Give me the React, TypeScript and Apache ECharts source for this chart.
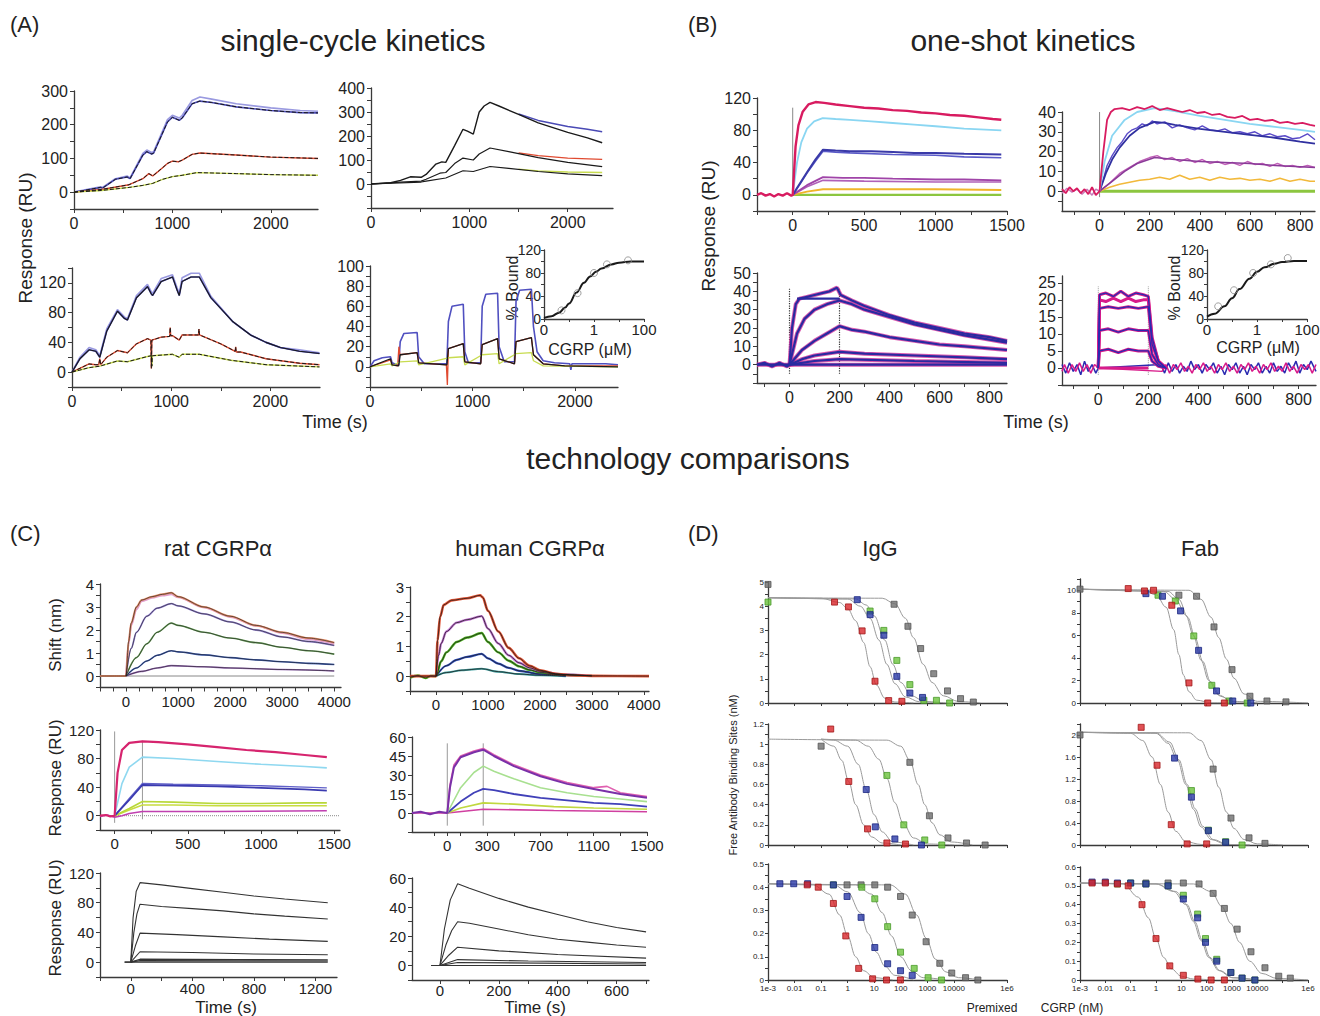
import React, { useEffect, useRef } from "react";
import * as echarts from "echarts";

type P = number[][];
const FONT = '"Liberation Sans", Arial, sans-serif';

// ================= (A) single-cycle kinetics =================
const a1BlueUpper: P = [[0,0],[100,6],[270,16],[290,14],[420,40],[540,48],[570,42],[700,115],[740,125],[790,118],[810,120],[950,215],[1000,228],[1070,220],[1100,228],[1200,272],[1280,282],[1400,276],[1650,262],[2000,250],[2300,242],[2480,240]];
const a1BlueLower: P = [[0,0],[100,5],[270,14],[290,12],[420,38],[540,45],[570,40],[700,110],[740,120],[790,113],[810,116],[950,208],[1000,222],[1070,213],[1100,220],[1200,262],[1280,270],[1400,266],[1650,253],[2000,242],[2300,236],[2480,235]];
const a1Red: P = [[0,0],[150,4],[280,8],[560,22],[700,40],[760,55],[800,48],[850,60],[950,85],[1000,92],[1060,90],[1100,95],[1200,112],[1280,116],[1650,110],[2000,104],[2480,100]];
const a1Green: P = [[0,0],[280,5],[560,14],[700,20],[800,26],[900,38],[1000,46],[1100,50],[1250,58],[1650,55],[2000,52],[2480,50]];

const a2Top: P = [[0,0],[200,5],[300,15],[400,30],[510,28],[560,40],[660,83],[720,92],[760,90],[850,160],[935,228],[980,220],[1040,208],[1100,300],[1150,325],[1210,340],[1300,325],[1500,290],[1700,255],[2000,215],[2200,192],[2350,172]];
const a2Blue: P = [[1500,292],[1700,265],[2000,240],[2200,228],[2350,218]];
const a2Mid: P = [[0,0],[300,8],[510,12],[560,20],[700,45],[760,48],[850,85],[935,108],[1040,100],[1100,125],[1210,150],[1400,135],[1700,110],[2000,90],[2350,72]];
const a2Red: P = [[1500,130],[1700,118],[2000,108],[2350,103]];
const a2Low: P = [[0,0],[510,8],[560,12],[760,25],[935,55],[1040,52],[1210,73],[1400,65],[1700,52],[2000,42],[2350,35]];
const a2Yellow: P = [[1500,62],[1700,55],[2000,50],[2350,48]];

const a3Blue: P = [[0,0],[80,18],[172,30],[240,28],[280,20],[350,55],[458,82],[530,72],[559,70],[650,100],[761,115],[800,105],[812,103],[900,122],[1013,128],[1060,110],[1081,103],[1110,122],[1200,128],[1283,128],[1400,100],[1620,68],[1800,50],[1956,40],[2100,33],[2293,28],[2495,25]];
const a3BlueLight: P = [[0,0],[80,20],[172,33],[240,30],[280,22],[350,58],[458,84],[530,74],[559,72],[650,103],[761,118],[800,108],[812,106],[900,126],[1013,131],[1060,113],[1081,106],[1110,127],[1200,133],[1283,133],[1400,102],[1620,68],[1800,50],[1956,40],[2100,33],[2293,30],[2495,26]];
const a3Red: P = [[0,0],[172,11],[240,10],[270,10],[280,18],[290,10],[350,20],[458,29],[559,26],[650,38],[761,45],[795,43],[800,5],[805,43],[900,47],[985,48],[990,60],[995,49],[1013,49],[1081,43],[1110,50],[1275,50],[1280,58],[1285,50],[1500,38],[1645,28],[1650,34],[1655,27],[1700,27],[1956,18],[2293,12],[2495,10]];
const a3Green: P = [[0,0],[172,6],[280,8],[458,15],[559,14],[761,21],[800,22],[805,8],[810,22],[1013,24],[1081,20],[1110,24],[1283,24],[1600,16],[1956,10],[2495,7]];

const a4Blue: P = [[0,0],[40,6],[120,9],[200,10],[215,4],[260,2],[280,2],[295,25],[330,33],[460,34],[475,10],[530,3],[750,3],[765,45],[800,60],[910,62],[925,15],[960,4],[1080,4],[1095,60],[1130,72],[1245,73],[1260,20],[1310,5],[1410,5],[1425,65],[1460,76],[1575,77],[1595,40],[1630,15],[1690,6],[1800,4],[1950,3],[1960,-3],[1970,3],[2300,3],[2420,2]];
const a4Black: P = [[0,0],[200,8],[215,2],[280,1],[295,12],[460,14],[475,4],[750,2],[765,18],[910,23],[925,5],[1080,3],[1095,22],[1245,28],[1260,8],[1410,3],[1425,25],[1575,29],[1595,12],[1690,3],[1900,1],[2420,0]];
const a4Red: P = [[0,0],[200,7],[215,2],[270,1],[282,20],[292,12],[460,14],[475,4],[745,2],[755,-18],[765,18],[910,23],[925,5],[1080,3],[1095,22],[1245,28],[1260,8],[1410,3],[1425,25],[1575,29],[1595,12],[1690,3],[1900,1],[2420,1]];
const a4Green: P = [[0,0],[200,3],[215,1],[295,5],[460,6],[475,2],[765,9],[910,10],[925,2],[1095,12],[1245,13],[1260,3],[1425,13],[1575,14],[1595,6],[1690,1],[2420,0]];

const insetACurve: P = [[0.01,2],[0.02,5],[0.04,11],[0.07,20],[0.1,27],[0.2,46],[0.4,63],[0.7,74],[1.2,82],[2,88],[5,95],[10,98],[30,100],[100,100]];
const insetAPoints: P = [[0.05,15],[0.22,45],[1,80],[3.3,95],[23,102]];

// ================= (B) one-shot kinetics =================
const b1Pink: P = [[-250,0],[-220,2],[-190,-1],[-160,1],[-130,-2],[-100,1],[-70,-1],[-40,2],[-10,-1],[0,0],[20,60],[40,86],[70,103],[110,112],[160,115],[220,114],[300,112],[400,110],[500,108],[600,107],[700,105],[800,104],[900,102],[1000,101],[1100,99],[1200,98],[1300,96],[1400,94],[1460,93]];
const b1Cyan: P = [[0,0],[30,40],[60,65],[100,82],[150,91],[210,95],[300,94],[400,93],[550,91],[700,89],[850,87],[1000,85],[1200,82],[1460,80]];
const b1BlueA: P = [[0,0],[50,14],[100,28],[160,44],[212,56],[300,55],[400,54],[550,54],[700,53],[850,52],[1000,52],[1200,51],[1460,50]];
const b1BlueB: P = [[0,0],[50,13],[100,27],[160,42],[212,54],[300,53],[400,52],[700,50],[1000,49],[1200,47],[1460,46]];
const b1PurpleA: P = [[0,0],[100,12],[212,22],[350,21],[500,21],[700,20],[1000,19],[1200,19],[1460,18]];
const b1PurpleB: P = [[0,0],[100,10],[212,18],[500,17],[1000,16],[1460,16]];
const b1Orange: P = [[0,0],[100,4],[212,7],[500,7],[1000,7],[1460,6]];
const b1Green: P = [[0,0],[1460,0]];
const b1Inject: P = [[0,0],[0,108]];

const b2Pink: P = [[-150,1],[-135,-1],[-120,2],[-105,0],[-90,1.5],[-75,-1],[-60,1],[-45,-1.5],[-30,2],[-15,-2],[0,0],[15,20],[30,36],[45,40],[60,41.5],[90,42],[120,41],[150,42.5],[180,41.5],[210,43],[240,41],[270,42],[300,41],[330,40],[360,41],[390,39.5],[420,40],[450,38.5],[480,39],[510,37.5],[540,37],[570,38],[600,36],[630,36.5],[660,35.5],[690,36],[720,34.5],[750,35],[780,34],[810,34.5],[840,33.5],[860,33]];
const b2Cyan: P = [[0,0],[20,15],[50,28],[100,36],[150,40],[220,42],[300,40.5],[400,38],[500,36],[600,34],[700,32.5],[800,31],[860,30]];
const b2BlueFit: P = [[0,0],[25,9],[50,16],[80,22],[120,28],[160,32],[220,35],[260,34.5],[300,33.5],[400,31.5],[500,30],[600,28.5],[700,27],[800,25],[860,24]];
const b2BlueData: P = [[0,0],[15,6],[30,13],[50,18],[70,22],[90,25],[110,29],[130,31],[150,32],[170,34],[190,33],[210,35.5],[230,34],[260,35],[290,32],[320,33.5],[350,32],[380,31],[410,33],[440,31],[470,30.5],[500,31.5],[530,29.5],[560,30],[590,29],[620,30],[650,28],[680,29],[710,27.5],[740,28],[770,26.5],[800,27],[830,29],[860,26]];
const b2PurpleFit: P = [[0,0],[50,5],[100,10],[150,14],[220,17],[300,16],[400,15],[500,14.5],[600,14],[700,13],[860,12]];
const b2PurpleData: P = [[0,0],[40,4],[80,9],[120,12],[160,15],[200,17],[230,18],[260,16],[290,17],[320,15],[350,16.5],[380,14.5],[410,16],[440,14],[470,15],[500,13.5],[530,14.5],[560,13],[590,15],[620,13.5],[650,14],[680,12.5],[710,14],[740,12.5],[770,13],[800,12],[830,13],[860,12]];
const b2Orange: P = [[0,0],[40,2],[80,3.5],[120,4.5],[160,5.5],[200,6],[240,7],[280,6],[320,8],[360,6],[400,7],[440,5.5],[480,7],[520,6],[560,6.5],[600,5.5],[640,6],[680,5],[720,6.5],[760,5],[800,6],[840,5],[860,5]];
const b2BaseNoise: P = [[-150,-1],[-130,1.5],[-110,-0.5],[-90,1],[-70,-1.5],[-50,1],[-30,-2],[-15,1],[0,0]];
const b2Green: P = [[0,0],[860,0]];
const b2Inject: P = [[0,-3],[0,40]];

const b3L1: P = [[-130,0],[-100,1],[-70,-1],[-40,1],[-10,-1],[0,0],[10,20],[25,33],[40,36],[70,37],[100,38],[130,39],[160,40],[190,42],[205,38],[250,35],[300,32],[350,29.5],[400,27],[450,25],[500,23],[600,20],[700,17],[800,15],[870,13]];
const b3L2: P = [[0,0],[30,17],[60,25],[100,30],[150,33],[200,35],[250,33],[300,30],[400,26],[500,22],[600,19],[700,16],[870,12]];
const b3L3: P = [[0,0],[50,8],[100,13],[150,17],[200,21],[250,19],[300,18],[400,15],[500,13],[600,11],[700,10],[870,8]];
const b3L4: P = [[0,0],[50,3],[100,5],[200,7],[300,6],[500,5],[700,4],[870,3]];
const b3L5: P = [[0,0],[100,2],[200,3],[500,2],[870,1]];
const b3L6: P = [[-130,0],[870,0]];
const b3Plateau: P = [[30,36],[200,36]];
const b3InjectStart: P = [[0,-5],[0,42]];
const b3InjectEnd: P = [[200,-5],[200,42]];

const b4Lvl1: P = [[0,0],[5,21.5],[30,22],[60,21],[90,22.5],[120,21],[150,22],[180,21.5],[200,21],[215,9],[240,2],[270,0]];
const b4Lvl2: P = [[0,0],[5,20],[30,19.5],[60,20.5],[90,19.5],[120,20.5],[150,19.5],[180,20],[200,20],[215,8],[240,2],[270,0]];
const b4Lvl3: P = [[0,0],[5,17.5],[40,18],[80,17.5],[120,18],[160,17.5],[200,18],[215,7],[240,2],[270,0]];
const b4Lvl4: P = [[0,0],[5,11],[40,11.5],[80,10.5],[120,11.5],[160,11],[200,11],[215,4],[240,1],[270,0]];
const b4Lvl5: P = [[0,0],[5,5],[40,5.5],[80,4.5],[120,5.5],[160,5],[200,5],[215,2],[240,0.5],[270,0]];
const b4Lvl6: P = [[0,0],[200,0]];
const b4NoiseBlue: P = [[-145,1],[-130,-1.5],[-115,1.5],[-100,-1],[-85,1],[-70,-2],[-55,2],[-40,-1],[-25,1],[-10,-1.5],[0,0],[250,1],[265,-1.5],[280,1.5],[295,-1],[310,1],[325,-1.5],[340,0.5],[355,-1],[370,2],[385,-0.5],[400,1],[415,-1.5],[430,1],[445,-0.5],[460,1.5],[475,-1.5],[490,0.5],[505,-2],[520,1],[535,-0.5],[550,1.5],[565,-1.5],[580,0.5],[595,-2],[610,1],[625,-0.5],[640,1.5],[655,-1.5],[670,0.5],[685,-1.5],[700,1.5],[715,-1],[730,0.5],[745,-1.5],[760,1.5],[775,-0.5],[790,2],[805,-1.5],[820,1],[835,-0.5],[850,2],[870,-1]];
const b4NoiseMagenta: P = [[-145,-1],[-135,1],[-120,-1.5],[-105,1],[-90,-1],[-75,1.5],[-60,-1],[-45,1],[-30,-1.5],[-15,1],[0,0],[255,-1],[270,1],[285,-1.5],[300,1],[315,-0.5],[330,1.5],[345,-1],[360,0.5],[375,-1.5],[390,1],[405,-0.5],[420,1.5],[435,-1],[450,0.5],[465,-1.5],[480,1],[495,-0.5],[510,1.5],[525,-1],[540,0.5],[555,-1.5],[570,1],[585,-0.5],[600,1.5],[615,-1],[630,0.5],[645,-1.5],[660,1],[675,-0.5],[690,1.5],[705,-1],[720,0.5],[735,-1],[750,1.5],[765,-1],[780,0.5],[795,-1.5],[810,1],[825,-0.5],[840,1],[855,-1.5],[870,1]];
const b4InjectStart: P = [[0,-2],[0,24]];
const b4InjectEnd: P = [[200,-2],[200,24]];

const insetBCurve: P = [[0.01,4],[0.02,9],[0.05,22],[0.1,36],[0.2,52],[0.5,70],[1,82],[2,90],[5,96],[10,99],[30,101],[100,101]];
const insetBPoints: P = [[0.028,22],[0.12,50],[0.7,80],[3.6,95],[17,106]];

// ================= (C) technology comparisons =================
const c1Orange: P = [[-500,0],[0,0],[50,1.5],[100,2.3],[200,3.0],[300,3.3],[500,3.45],[700,3.55],[870,3.62],[1000,3.45],[1500,3.0],[2000,2.6],[2500,2.2],[3000,1.9],[3500,1.65],[4000,1.45]];
const c1Pink: P = [[0,0],[50,1.4],[100,2.2],[200,2.9],[300,3.25],[500,3.4],[700,3.5],[870,3.55],[1000,3.42],[1500,2.98],[2000,2.57],[2500,2.18],[3000,1.87],[3500,1.6],[4000,1.4]];
const c1Purple: P = [[0,0],[100,1.2],[200,1.9],[400,2.6],[600,2.95],[870,3.15],[1000,3.05],[1500,2.7],[2000,2.35],[2500,2.0],[3000,1.7],[3500,1.5],[4000,1.33]];
const c1Green: P = [[0,0],[200,0.8],[400,1.4],[600,1.9],[870,2.3],[1000,2.2],[1500,1.9],[2000,1.65],[2500,1.45],[3000,1.25],[3500,1.1],[4000,0.95]];
const c1Blue: P = [[0,0],[200,0.35],[400,0.65],[600,0.9],[870,1.1],[1000,1.05],[1500,0.92],[2000,0.8],[2500,0.7],[3000,0.62],[3500,0.55],[4000,0.5]];
const c1Violet: P = [[0,0],[300,0.2],[600,0.35],[870,0.45],[1500,0.4],[2000,0.35],[3000,0.28],[4000,0.22]];
const c1Zero: P = [[-500,0],[4000,0]];

const c2Red: P = [[-500,0],[0,0],[30,1.2],[80,2.0],[150,2.4],[300,2.55],[600,2.62],[850,2.72],[900,2.65],[1000,2.2],[1200,1.5],[1400,0.95],[1600,0.6],[1800,0.35],[2000,0.2],[2300,0.08],[2600,0.03],[3000,0.01],[4100,0]];
const c2Pink: P = [[0,0],[50,0.7],[100,1.1],[200,1.5],[400,1.8],[600,1.9],[880,2.02],[1000,1.6],[1200,1.1],[1400,0.7],[1600,0.45],[1800,0.28],[2000,0.17],[2400,0.06],[3000,0.01]];
const c2Green: P = [[-500,-0.05],[-350,0.02],[-200,-0.06],[-100,0.01],[0,0],[100,0.5],[200,0.8],[400,1.15],[600,1.3],[880,1.45],[1000,1.15],[1200,0.8],[1400,0.52],[1600,0.33],[1800,0.21],[2000,0.13],[2400,0.05],[3000,0.01]];
const c2Blue: P = [[0,0],[200,0.35],[400,0.55],[600,0.65],[880,0.75],[1000,0.6],[1200,0.42],[1400,0.28],[1600,0.18],[2000,0.07],[2500,0.02]];
const c2Teal: P = [[0,0],[200,0.12],[500,0.2],[880,0.25],[1200,0.15],[1600,0.07],[2000,0.03],[2500,0]];
const c2Zero: P = [[2500,0],[4100,0]];

const c3Pink: P = [[-100,0],[-60,1],[-30,-1],[0,0],[20,60],[50,92],[100,102],[190,104],[300,103],[500,100],[700,96],[900,92],[1100,89],[1300,85],[1450,82]];
const c3Cyan: P = [[0,0],[50,45],[100,68],[190,82],[400,80],[700,76],[1000,72],[1300,69],[1450,67]];
const c3Blue: P = [[0,0],[100,22],[190,43],[400,42],[700,41],[1000,39],[1300,37],[1450,35]];
const c3Blue2: P = [[0,0],[100,24],[190,45],[400,44],[700,43],[1000,42],[1300,40],[1450,39]];
const c3Yellow: P = [[0,0],[100,10],[190,20],[400,19],[700,17],[1000,17],[1300,18],[1450,18]];
const c3Yellow2: P = [[0,0],[100,8],[190,15],[400,15],[700,14],[1000,14],[1450,14]];
const c3Magenta: P = [[-100,-1],[-50,1],[0,-2],[50,0],[100,3],[190,6],[700,6],[1450,7]];
const c3Gray: P = [[-100,0],[1540,0]];
const c3InjectStart: P = [[0,-10],[0,118]];
const c3InjectEnd: P = [[190,-5],[190,105]];

const c4Purple: P = [[-265,0],[-200,1],[-130,-1],[-60,1],[0,0],[20,20],[50,36],[100,44],[200,48],[270,50],[350,45],[500,37],[700,29],[900,23],[1100,19],[1300,15],[1500,12]];
const c4Pink: P = [[0,0],[20,22],[50,38],[100,45],[200,49],[270,51],[350,46],[500,38],[700,30],[900,24],[1100,20],[1200,21],[1300,16],[1500,13]];
const c4Green: P = [[0,0],[100,20],[200,32],[270,37],[350,33],[500,27],[700,20],[900,16],[1100,13],[1300,11],[1500,9]];
const c4Blue: P = [[0,0],[100,9],[200,16],[270,19],[350,18],[500,15],[700,12],[900,10],[1100,8],[1300,7],[1500,5]];
const c4Yellow: P = [[0,0],[100,4],[270,8],[500,7],[800,5],[1100,4],[1500,3]];
const c4Magenta: P = [[-265,0],[0,0],[270,3],[800,2],[1500,1]];
const c4InjectStart: P = [[0,-10],[0,55]];
const c4InjectEnd: P = [[270,-10],[270,55]];

const c5L1: P = [[-40,0],[0,0],[15,60],[35,95],[60,107],[200,104],[400,99],[600,94],[800,89],[1000,85],[1280,80]];
const c5L2: P = [[0,0],[20,40],[40,65],[60,78],[200,75],[400,72],[600,69],[800,65],[1000,62],[1280,58]];
const c5L3: P = [[0,0],[30,22],[60,39],[300,37],[600,34],[900,31],[1280,28]];
const c5L4: P = [[0,0],[60,14],[400,13],[800,11],[1280,10]];
const c5L5: P = [[0,0],[60,4],[700,3.5],[1280,3]];
const c5L6: P = [[0,0],[60,2],[1280,1.5]];
const c5L7: P = [[-40,0],[1280,0]];

const c6L1: P = [[-30,0],[0,0],[15,25],[35,45],[60,56],[100,53],[200,46],[300,40],[400,35],[500,30],[600,26],[700,23]];
const c6L2: P = [[0,0],[20,14],[40,24],[60,30],[100,29],[200,25],[300,21],[400,18],[500,16],[600,14],[700,12.5]];
const c6L3: P = [[0,0],[30,7],[60,12.5],[200,10],[400,7.5],[700,5]];
const c6L4: P = [[0,0],[60,4],[300,3],[700,2]];
const c6L5: P = [[0,0],[60,2],[700,1]];
const c6L6: P = [[-30,0],[700,0]];

// ================= (D) solution affinity =================
const dIgGTopRedFit: P = [[0.001,4.35],[0.1,4.33],[0.5,4.15],[1,3.9],[2,3.4],[4,2.5],[7,1.5],[12,0.75],[25,0.2],[60,0.04],[300,0]];
const dIgGTopBlueFit: P = [[0.001,4.35],[1,4.3],[3,4.0],[7,3.5],[15,2.6],[30,1.6],[60,0.8],[150,0.25],[500,0.05],[3000,0]];
const dIgGTopGreenFit: P = [[0.001,4.35],[2,4.3],[5,4.05],[10,3.6],[25,2.6],[50,1.6],[100,0.85],[250,0.3],[800,0.06],[5000,0]];
const dIgGTopGrayFit: P = [[0.001,4.35],[20,4.33],[60,4.1],[150,3.5],[300,2.7],[700,1.6],[1500,0.85],[4000,0.3],[15000,0.06],[100000,0]];
const dIgGTopRed: P = [[0.32,4.17],[1.07,3.97],[3.5,2.98],[10.7,0.9],[35,0.1],[110,0.07]];
const dIgGTopBlue: P = [[2.3,4.27],[7,3.65],[23,2.8],[71,1.1],[220,0.41],[660,0.23]];
const dIgGTopGreen: P = [[0.001,4.17],[7,3.8],[23,3.0],[71,1.76],[220,0.76],[740,0.11],[2200,0.11],[6900,0]];
const dIgGTopGray: P = [[0.001,4.9],[56,4.08],[186,3.17],[560,2.25],[1740,1.21],[5750,0.5],[17800,0.18],[54000,0.04]];

const dFabTopRedFit: P = [[0.001,10.1],[0.3,10.0],[1,9.6],[2.5,8.5],[5,6.5],[8,4.3],[12,2.5],[20,1.0],[40,0.25],[150,0.02],[1000,0]];
const dFabTopBlueFit: P = [[0.001,10.1],[2,9.9],[6,9.2],[15,7.8],[30,6.0],[60,3.8],[120,2.0],[300,0.7],[1000,0.15],[10000,0]];
const dFabTopGreenFit: P = [[0.001,10.1],[3,9.9],[8,9.2],[18,7.6],[35,5.8],[70,3.7],[140,1.9],[350,0.6],[1200,0.1],[10000,0]];
const dFabTopGrayFit: P = [[0.001,10.1],[20,10.0],[60,9.2],[150,7.6],[300,5.8],[600,3.9],[1200,2.2],[3000,0.8],[10000,0.15],[1000000,0]];
const dFabTopRed: P = [[0.08,10.15],[0.35,9.94],[0.8,10.0],[4.2,8.67],[20,1.78],[110,0],[500,0]];
const dFabTopBlue: P = [[0.4,9.7],[1.8,9.47],[9.3,8.17],[48,4.67],[245,1.07],[1070,0.18],[5500,0]];
const dFabTopGreen: P = [[1.2,9.56],[5.8,9.05],[31,5.95],[160,1.57],[770,0.18],[4000,0]];
const dFabTopGray: P = [[0.001,10.1],[8,9.56],[40,9.47],[195,6.75],[1000,2.96],[5100,0.6],[24000,0.18],[135000,0.1]];

const dIgGMidRedFit: P = [[0.1,1.05],[0.3,0.98],[0.6,0.84],[1.1,0.63],[2,0.4],[4,0.2],[8,0.08],[20,0.02],[100,0]];
const dIgGMidBlueFit: P = [[0.1,1.05],[0.3,1.04],[1,0.98],[2.5,0.8],[5,0.55],[10,0.3],[20,0.13],[50,0.03],[300,0]];
const dIgGMidGreenFit: P = [[0.1,1.05],[2,1.04],[6,0.98],[15,0.85],[30,0.66],[60,0.42],[120,0.22],[300,0.07],[1000,0.01],[10000,0]];
const dIgGMidGrayFit: P = [[0.001,1.05],[30,1.04],[100,0.98],[220,0.84],[450,0.6],[800,0.4],[1500,0.22],[3000,0.1],[8000,0.03],[50000,0]];
const dIgGMidRed: P = [[0.23,1.15],[1.1,0.63],[5.6,0.16],[30,0.02],[150,0.01]];
const dIgGMidBlue: P = [[5,0.55],[11,0.18],[60,0.06],[600,0]];
const dIgGMidGreen: P = [[30,0.69],[130,0.2],[800,0.05],[3500,0]];
const dIgGMidGray: P = [[0.1,0.98],[220,0.82],[1200,0.29],[6000,0.07],[30000,0.02],[150000,0]];

const dFabMidRedFit: P = [[0.001,2.05],[0.1,2.03],[0.3,1.9],[0.7,1.6],[1.5,1.1],[3,0.6],[6,0.25],[15,0.06],[60,0.01],[500,0]];
const dFabMidBlueFit: P = [[0.001,2.05],[1,2.03],[3,1.85],[7,1.55],[15,1.1],[30,0.65],[60,0.33],[150,0.1],[600,0.01],[5000,0]];
const dFabMidGreenFit: P = [[0.001,2.05],[1,2.04],[3.5,1.87],[8,1.55],[17,1.1],[35,0.66],[70,0.34],[180,0.1],[700,0.01],[5000,0]];
const dFabMidGrayFit: P = [[0.001,2.05],[20,2.04],[60,1.9],[150,1.55],[300,1.05],[600,0.6],[1200,0.3],[3000,0.1],[10000,0.02],[100000,0]];
const dFabMidRed: P = [[0.26,2.14],[1.1,1.45],[4,0.37],[17,0.02],[100,0.02]];
const dFabMidBlue: P = [[5.4,1.58],[25,0.87],[117,0.26],[560,0.05]];
const dFabMidGreen: P = [[25,0.99],[117,0.27],[560,0.06],[2500,0]];
const dFabMidGray: P = [[0.001,2.0],[180,1.38],[910,0.49],[4700,0.13],[20000,0.03]];

const dIgGBotRedFit: P = [[0.001,0.415],[0.05,0.41],[0.2,0.37],[0.5,0.28],[1,0.19],[2,0.1],[4,0.04],[10,0.01],[50,0]];
const dIgGBotBlueFit: P = [[0.001,0.415],[0.3,0.41],[1,0.38],[3,0.29],[6,0.2],[12,0.12],[25,0.06],[60,0.02],[300,0]];
const dIgGBotGreenFit: P = [[0.001,0.415],[2,0.41],[8,0.37],[20,0.29],[45,0.19],[100,0.1],[250,0.04],[700,0.01],[5000,0]];
const dIgGBotGrayFit: P = [[0.001,0.415],[40,0.41],[150,0.37],[400,0.28],[900,0.18],[2000,0.09],[5000,0.035],[15000,0.01],[100000,0]];
const dIgGBotRed: P = [[0.03,0.41],[0.078,0.4],[0.29,0.33],[0.85,0.19],[2.6,0.05],[8.7,0.005],[29,0],[97,0]];
const dIgGBotBlue: P = [[0.0028,0.415],[0.0093,0.415],[0.031,0.415],[0.29,0.41],[0.95,0.36],[3.2,0.27],[10.5,0.14],[32,0.07],[98,0.04],[270,0.02]];
const dIgGBotGreen: P = [[0.29,0.41],[3.4,0.4],[10.5,0.35],[32,0.23],[98,0.12],[320,0.05],[1070,0.01],[3400,0]];
const dIgGBotGray: P = [[0.95,0.41],[3.2,0.41],[10.5,0.41],[32,0.4],[98,0.36],[270,0.28],[900,0.165],[2950,0.072],[8300,0.03],[27500,0.01],[80000,0]];

const dFabBotRedFit: P = [[0.001,0.515],[0.05,0.51],[0.2,0.44],[0.5,0.33],[1,0.22],[2,0.12],[4,0.06],[10,0.02],[30,0.005],[200,0]];
const dFabBotBlueFit: P = [[0.001,0.515],[1,0.51],[5,0.47],[15,0.4],[30,0.31],[60,0.21],[120,0.12],[300,0.05],[1000,0.012],[10000,0]];
const dFabBotGreenFit: P = [[0.001,0.515],[1,0.51],[6,0.47],[17,0.4],[34,0.31],[68,0.21],[135,0.12],[330,0.05],[1100,0.012],[10000,0]];
const dFabBotGrayFit: P = [[0.001,0.515],[30,0.51],[150,0.47],[400,0.39],[900,0.3],[2000,0.2],[5000,0.1],[15000,0.035],[60000,0.008],[1000000,0]];
const dFabBotRed: P = [[0.003,0.515],[0.01,0.515],[0.03,0.51],[0.08,0.5],[0.28,0.4],[1,0.22],[3.5,0.075],[12,0.025],[45,0.005],[150,0],[500,0]];
const dFabBotBlue: P = [[0.003,0.52],[0.01,0.52],[0.03,0.515],[0.1,0.515],[0.4,0.51],[3,0.5],[12,0.43],[44,0.33],[90,0.2],[250,0.1],[900,0.04],[2500,0.01],[8000,0]];
const dFabBotGreen: P = [[0.03,0.51],[0.1,0.515],[0.4,0.51],[3,0.5],[12,0.45],[44,0.35],[90,0.22],[250,0.11],[900,0.04],[2500,0.01],[8000,0]];
const dFabBotGray: P = [[0.4,0.515],[3,0.515],[12,0.515],[50,0.51],[180,0.46],[500,0.38],[1600,0.27],[5600,0.15],[20000,0.065],[70000,0.02],[200000,0.01]];

// ================= tick values / labels =================
const tA1X = [0, 500, 1000, 1500, 2000], lA1X = [0, 1000, 2000];
const tA1Y = [-50, 0, 50, 100, 150, 200, 250, 300], lA1Y = [0, 100, 200, 300];
const tA2Y = [-100, -50, 0, 50, 100, 150, 200, 250, 300, 350, 400], lA2Y = [0, 100, 200, 300, 400];
const tA3Y = [-20, 0, 20, 40, 60, 80, 100, 120, 140], lA3Y = [0, 40, 80, 120];
const tA4Y = [-20, -10, 0, 10, 20, 30, 40, 50, 60, 70, 80, 90, 100], lA4Y = [0, 20, 40, 60, 80, 100];
const tInsetX = [0.01, 0.1, 1, 10, 100], lInsetX = [0.01, 1, 100];
const tInsetY = [0, 20, 40, 60, 80, 100, 120], lInsetY = [0, 40, 80, 120];
const tB1X = [-250, 0, 250, 500, 750, 1000, 1250, 1500], lB1X = [0, 500, 1000, 1500];
const tB1Y = [-20, 0, 20, 40, 60, 80, 100, 120], lB1Y = [0, 40, 80, 120];
const tB2X = [-100, 0, 100, 200, 300, 400, 500, 600, 700, 800], lB2X = [0, 200, 400, 600, 800];
const tB2Y = [-5, 0, 5, 10, 15, 20, 25, 30, 35, 40], lB2Y = [0, 10, 20, 30, 40];
const tB3Y = [-10, -5, 0, 5, 10, 15, 20, 25, 30, 35, 40, 45, 50], lB3Y = [0, 10, 20, 30, 40, 50];
const tB4Y = [-5, 0, 5, 10, 15, 20, 25], lB4Y = [0, 5, 10, 15, 20, 25];
const tC1X = [-500, -250, 0, 250, 500, 750, 1000, 1250, 1500, 1750, 2000, 2250, 2500, 2750, 3000, 3250, 3500, 3750, 4000], lC1X = [0, 1000, 2000, 3000, 4000];
const tC1Y = [-0.5, 0, 0.5, 1, 1.5, 2, 2.5, 3, 3.5, 4], lC1Y = [0, 1, 2, 3, 4];
const tC2X = [-500, 0, 500, 1000, 1500, 2000, 2500, 3000, 3500, 4000], lC2Y = [0, 1, 2, 3];
const tC2Y = [-0.5, 0, 0.5, 1, 1.5, 2, 2.5, 3];
const tC3X = [0, 250, 500, 750, 1000, 1250, 1500], lC3X = [0, 500, 1000, 1500];
const tC3Y = [-20, 0, 20, 40, 60, 80, 100, 120], lC3Y = [0, 40, 80, 120];
const tC4X = [-100, 0, 100, 300, 500, 700, 900, 1100, 1300, 1500], lC4X = [0, 300, 700, 1100, 1500];
const tC4Y = [-15, 0, 15, 30, 45, 60], lC4Y = [0, 15, 30, 45, 60];
const tC5X = [-200, 0, 200, 400, 600, 800, 1000, 1200], lC5X = [0, 400, 800, 1200];
const tC5Y = [-20, 0, 20, 40, 60, 80, 100, 120], lC5Y = [0, 40, 80, 120];
const tC6X = [0, 100, 200, 300, 400, 500, 600, 700], lC6X = [0, 200, 400, 600];
const tC6Y = [-10, 0, 10, 20, 30, 40, 50, 60], lC6Y = [0, 20, 40, 60];
const dTickValues = [0.001, 0.01, 0.1, 1, 10, 100, 1000, 10000, 100000, 1000000];
const dLabelValues = [0.001, 0.01, 0.1, 1, 10, 100, 1000, 10000, 1000000];
const dLabelTexts = ["1e-3", "0.01", "0.1", "1", "10", "100", "1000", "10000", "1e6"];
const tD1Y = [0, 0.5, 1, 1.5, 2, 2.5, 3, 3.5, 4, 4.5, 5], lD1Y = [0, 1, 2, 3, 4, 5];
const tD2Y = [0, 1, 2, 3, 4, 5, 6, 7, 8, 9, 10, 11], lD2Y = [0, 2, 4, 6, 8, 10];
const tD3Y = [0, 0.1, 0.2, 0.3, 0.4, 0.5, 0.6, 0.7, 0.8, 0.9, 1, 1.1, 1.2], lD3Y = [0, 0.2, 0.4, 0.6, 0.8, 1, 1.2];
const tD4Y = [0, 0.2, 0.4, 0.6, 0.8, 1, 1.2, 1.4, 1.6, 1.8, 2, 2.2], lD4Y = [0, 0.4, 0.8, 1.2, 1.6, 2];
const tD5Y = [0, 0.05, 0.1, 0.15, 0.2, 0.25, 0.3, 0.35, 0.4, 0.45, 0.5], lD5Y = [0, 0.1, 0.2, 0.3, 0.4, 0.5];
const tD6Y = [0, 0.05, 0.1, 0.15, 0.2, 0.25, 0.3, 0.35, 0.4, 0.45, 0.5, 0.55, 0.6], lD6Y = [0, 0.1, 0.2, 0.3, 0.4, 0.5, 0.6];

type Ax = { min: number; max: number; ticks: number[]; labels: number[]; log?: boolean; fmt?: (v: number) => string; font?: number; tickLen?: number; margin?: number };
type Panel = { rect: [number, number, number, number]; x: Ax; y: Ax };

const numFmt = (v: number) => String(Math.round(v * 1000) / 1000);
const insetFmt = (v: number) => (v < 0.05 ? "0" : numFmt(v));
const dFmt = (v: number) => {
  const i = dLabelValues.findIndex((t) => Math.abs(Math.log10(t) - Math.log10(v)) < 0.01);
  return i >= 0 ? dLabelTexts[i] : "";
};

function buildOption() {
  const dX = (show: boolean): Ax => ({ min: 0.001, max: 1000000, log: true, ticks: dTickValues, labels: show ? dLabelValues : [], fmt: dFmt, font: 8, tickLen: 3, margin: 4 });
  const dY = (t: number[], l: number[], min: number, max: number): Ax => ({ min, max, ticks: t, labels: l, font: 8, tickLen: 3, margin: 4 });
  const insX: Ax = { min: 0.01, max: 100, log: true, ticks: tInsetX, labels: lInsetX, fmt: insetFmt, font: 15, tickLen: 3, margin: 3 };
  const insY: Ax = { min: 0, max: 120, ticks: tInsetY, labels: lInsetY, font: 14, tickLen: 3, margin: 3 };
  const ab = 16, cf = 15;
  const panels: Panel[] = [
    { rect: [74, 91, 244, 118], x: { min: 0, max: 2480, ticks: tA1X, labels: lA1X, font: ab }, y: { min: -50, max: 300, ticks: tA1Y, labels: lA1Y, font: ab } },
    { rect: [371, 88, 242, 120], x: { min: 0, max: 2460, ticks: tA1X, labels: lA1X, font: ab }, y: { min: -100, max: 400, ticks: tA2Y, labels: lA2Y, font: ab } },
    { rect: [72, 268, 248, 119], x: { min: 0, max: 2500, ticks: tA1X, labels: lA1X, font: ab }, y: { min: -20, max: 140, ticks: tA3Y, labels: lA3Y, font: ab } },
    { rect: [370, 266, 248, 121], x: { min: 0, max: 2420, ticks: tA1X, labels: lA1X, font: ab }, y: { min: -20, max: 100, ticks: tA4Y, labels: lA4Y, font: ab } },
    { rect: [544, 250, 100, 69], x: insX, y: insY },
    { rect: [757, 98, 250, 113], x: { min: -250, max: 1500, ticks: tB1X, labels: lB1X, font: ab }, y: { min: -20, max: 120, ticks: tB1Y, labels: lB1Y, font: ab } },
    { rect: [1062, 112, 253, 99], x: { min: -150, max: 860, ticks: tB2X, labels: lB2X, font: ab }, y: { min: -10, max: 40, ticks: tB2Y, labels: lB2Y, font: ab } },
    { rect: [757, 273, 250, 110], x: { min: -130, max: 870, ticks: tB2X, labels: lB2X, font: ab }, y: { min: -10, max: 50, ticks: tB3Y, labels: lB3Y, font: ab } },
    { rect: [1062, 276, 254, 109], x: { min: -145, max: 870, ticks: tB2X, labels: lB2X, font: ab }, y: { min: -5, max: 27, ticks: tB4Y, labels: lB4Y, font: ab } },
    { rect: [1207, 250, 100, 69], x: insX, y: insY },
    { rect: [100, 584, 241, 103.5], x: { min: -500, max: 4130, ticks: tC1X, labels: lC1X, font: cf }, y: { min: -0.5, max: 4, ticks: tC1Y, labels: lC1Y, font: cf } },
    { rect: [410, 587, 239, 104], x: { min: -500, max: 4100, ticks: tC2X, labels: lC1X, font: cf }, y: { min: -0.5, max: 3, ticks: tC2Y, labels: lC2Y, font: cf } },
    { rect: [100, 730, 240, 100], x: { min: -100, max: 1540, ticks: tC3X, labels: lC3X, font: cf }, y: { min: -20, max: 120, ticks: tC3Y, labels: lC3Y, font: cf } },
    { rect: [412, 737, 235, 95], x: { min: -265, max: 1500, ticks: tC4X, labels: lC4X, font: cf }, y: { min: -15, max: 60, ticks: tC4Y, labels: lC4Y, font: cf } },
    { rect: [100, 873, 237, 104], x: { min: -200, max: 1340, ticks: tC5X, labels: lC5X, font: cf, margin: 4 }, y: { min: -20, max: 120, ticks: tC5Y, labels: lC5Y, font: cf } },
    { rect: [412, 878, 237, 102], x: { min: -95, max: 710, ticks: tC6X, labels: lC6X, font: cf, margin: 3 }, y: { min: -10, max: 60, ticks: tC6Y, labels: lC6Y, font: cf } },
    { rect: [768, 582, 239, 121], x: dX(false), y: dY(tD1Y, lD1Y, 0, 5) },
    { rect: [1080, 579, 228, 124], x: dX(false), y: dY(tD2Y, lD2Y, 0, 11) },
    { rect: [768, 724, 239, 121], x: dX(false), y: dY(tD3Y, lD3Y, 0, 1.2) },
    { rect: [1080, 724, 228, 121], x: dX(false), y: dY(tD4Y, lD4Y, 0, 2.2) },
    { rect: [768, 864, 239, 116], x: dX(true), y: dY(tD5Y, lD5Y, 0, 0.5) },
    { rect: [1080, 867, 228, 113], x: dX(true), y: dY(tD6Y, lD6Y, 0, 0.6) },
  ];
  const noClip = new Set([6]);

  const mkAxis = (gi: number, a: Ax) => {
    const fmt = a.fmt ?? numFmt;
    return {
      type: a.log ? "log" : "value",
      logBase: 10,
      gridIndex: gi,
      min: a.min,
      max: a.max,
      axisLine: { show: true, onZero: false, lineStyle: { color: "#3a3a3a", width: 1.3 } },
      axisTick: { show: true, inside: false, length: a.tickLen ?? 4, customValues: a.ticks, lineStyle: { color: "#3a3a3a", width: 1 } },
      axisLabel: { show: a.labels.length > 0, customValues: a.labels, formatter: (v: number) => fmt(v), fontSize: a.font ?? 16, fontFamily: FONT, color: "#222", margin: a.margin ?? 6, hideOverlap: false, showMinLabel: true, showMaxLabel: true },
      splitLine: { show: false },
      minorTick: { show: false },
      minorSplitLine: { show: false },
    };
  };

  const series: any[] = [];
  const ln = (g: number, data: P, color: string, width = 1.5, o: any = {}) => {
    series.push({
      type: "line", xAxisIndex: g, yAxisIndex: g, data, showSymbol: false, symbol: "none", silent: true,
      smooth: o.smooth ?? false, smoothMonotone: "x", z: o.z ?? 2, clip: !noClip.has(g),
      lineStyle: { color, width, type: o.type ?? "solid", opacity: o.opacity ?? 1 },
    });
  };
  const pts = (g: number, data: P, color: string, border: string, symbol = "rect", size = 6) => {
    series.push({
      type: "scatter", xAxisIndex: g, yAxisIndex: g, data, symbol, symbolSize: size, silent: true, z: 5,
      itemStyle: { color, borderColor: border, borderWidth: 1 },
    });
  };

  const BLK = "#1a1a1a";
  // A1
  ln(0, a1BlueUpper, "#9a9ae0", 1.6); ln(0, a1BlueLower, "#4a4ab5", 1.6); ln(0, a1Red, "#e04a30", 1.4); ln(0, a1Green, "#c8dc50", 1.4);
  ln(0, a1BlueLower, BLK, 1, { type: "dashed", z: 3 }); ln(0, a1Red, BLK, 1, { type: "dashed", z: 3 }); ln(0, a1Green, BLK, 1, { type: "dashed", z: 3 });
  // A2
  ln(1, a2Blue, "#4a4ab5", 1.5); ln(1, a2Red, "#e04a30", 1.3); ln(1, a2Yellow, "#c8dc50", 1.3);
  ln(1, a2Top, BLK, 1.4, { z: 3 }); ln(1, a2Mid, BLK, 1.2, { z: 3 }); ln(1, a2Low, BLK, 1.1, { z: 3 });
  // A3
  ln(2, a3BlueLight, "#9a9ae0", 1.6); ln(2, a3Blue, "#4a4ab5", 1.6); ln(2, a3Red, "#e04a30", 1.4); ln(2, a3Green, "#c8dc50", 1.4);
  ln(2, a3Blue, BLK, 1.1, { z: 3 }); ln(2, a3Red, BLK, 1, { type: "dashed", z: 3 }); ln(2, a3Green, BLK, 1, { type: "dashed", z: 3 });
  // A4
  ln(3, a4Blue, "#5050c0", 1.6); ln(3, a4Red, "#e04a30", 1.3); ln(3, a4Green, "#c8dc50", 1.3);
  ln(3, a4Black, BLK, 1.3, { z: 3 });
  // inset A
  ln(4, insetACurve, BLK, 2, { smooth: 0.4, z: 3 }); pts(4, insetAPoints, "rgba(255,255,255,0)", "#888", "circle", 7);
  // B1
  ln(5, b1Inject, "#888", 1);
  ln(5, b1Green, "#8cc63f", 2.2); ln(5, b1Orange, "#f0b429", 2); ln(5, b1PurpleB, "#b060b8", 1.6); ln(5, b1PurpleA, "#a044a8", 1.8);
  ln(5, b1BlueB, "#5a5ac8", 1.6); ln(5, b1BlueA, "#3a3aa8", 2); ln(5, b1Cyan, "#8ad6f2", 1.8); ln(5, b1Pink, "#d81b60", 2.4, { z: 4 });
  // B2
  ln(6, b2Inject, "#888", 1);
  ln(6, b2Green, "#8cc63f", 3); ln(6, b2BaseNoise, "#c77ab8", 1.5); ln(6, b2Orange, "#f2b93b", 1.6);
  ln(6, b2PurpleData, "#c060b8", 1.4); ln(6, b2PurpleFit, "#8a3a98", 1.6);
  ln(6, b2BlueData, "#5a4ac8", 1.4); ln(6, b2BlueFit, "#3030a0", 1.8);
  ln(6, b2Cyan, "#8ad6f2", 1.8); ln(6, b2Pink, "#d81b60", 1.8, { z: 4 });
  // B3
  ln(7, b3InjectStart, "#333", 1.2, { type: "dotted" }); ln(7, b3InjectEnd, "#333", 1.2, { type: "dotted" });
  for (const d of [b3L6, b3L5, b3L4, b3L3, b3L2, b3L1]) ln(7, d, "#d0309a", 4, { opacity: 0.8 });
  for (const d of [b3L6, b3L5, b3L4, b3L3, b3L2, b3L1]) ln(7, d, "#2a2aa0", 2.2, { z: 3 });
  ln(7, b3Plateau, "#2a2aa0", 2.2, { z: 3 });
  // B4
  ln(8, b4InjectStart, "#999", 1, { type: "dotted" }); ln(8, b4InjectEnd, "#999", 1, { type: "dotted" });
  ln(8, b4NoiseBlue, "#2a2ab0", 1.5); ln(8, b4NoiseMagenta, "#d81b8a", 1.5);
  for (const d of [b4Lvl6, b4Lvl5, b4Lvl4, b4Lvl3, b4Lvl2, b4Lvl1]) ln(8, d, "#d81b8a", 3, { z: 3 });
  for (const d of [b4Lvl5, b4Lvl4, b4Lvl3, b4Lvl1]) ln(8, d, "#2a2ab0", 1.3, { z: 4 });
  // inset B
  ln(9, insetBCurve, BLK, 2, { smooth: 0.4, z: 3 }); pts(9, insetBPoints, "rgba(255,255,255,0)", "#888", "circle", 7);
  // C1
  ln(10, c1Zero, "#888", 1);
  ln(10, c1Violet, "#a070c0", 1.6, { smooth: 0.3 }); ln(10, c1Blue, "#4060b8", 1.6, { smooth: 0.3 }); ln(10, c1Green, "#70a860", 1.6, { smooth: 0.3 });
  ln(10, c1Purple, "#9a88d8", 1.8, { smooth: 0.3 }); ln(10, c1Pink, "#e0a0d0", 2, { smooth: 0.3 }); ln(10, c1Orange, "#e8906a", 2, { smooth: 0.3 });
  for (const d of [c1Violet, c1Blue, c1Green, c1Purple, c1Orange]) ln(10, d, BLK, 0.8, { smooth: 0.3, z: 3, opacity: 0.8 });
  // C2
  ln(11, c2Zero, "#888", 1);
  ln(11, c2Teal, "#40a0a0", 2, { smooth: 0.3 }); ln(11, c2Blue, "#3050c0", 2.2, { smooth: 0.3 }); ln(11, c2Green, "#4cb020", 2.4, { smooth: 0.3 });
  ln(11, c2Pink, "#c070d0", 2.4, { smooth: 0.3 }); ln(11, c2Red, "#e05030", 2.6, { smooth: 0.3 });
  for (const d of [c2Teal, c2Blue, c2Green, c2Pink, c2Red]) ln(11, d, BLK, 0.9, { smooth: 0.3, z: 3, opacity: 0.85 });
  // C3
  ln(12, c3InjectStart, "#999", 1); ln(12, c3InjectEnd, "#999", 1); ln(12, c3Gray, "#888", 1, { type: "dotted" });
  ln(12, c3Magenta, "#c040b0", 1.6); ln(12, c3Yellow2, "#c8dc40", 1.5); ln(12, c3Yellow, "#b8d838", 1.6);
  ln(12, c3Blue2, "#6060c8", 1.4); ln(12, c3Blue, "#3a3ab0", 1.8); ln(12, c3Cyan, "#8fd8f0", 1.6); ln(12, c3Pink, "#d6246e", 2.2, { z: 4 });
  // C4
  ln(13, c4InjectStart, "#999", 1); ln(13, c4InjectEnd, "#999", 1);
  ln(13, c4Magenta, "#d040a0", 1.6); ln(13, c4Yellow, "#c0d840", 1.6); ln(13, c4Blue, "#4040b8", 1.8);
  ln(13, c4Green, "#a8e090", 1.6); ln(13, c4Pink, "#e060b0", 1.6); ln(13, c4Purple, "#7a30a8", 2, { z: 4 });
  // C5
  for (const d of [c5L7, c5L6, c5L5, c5L4, c5L3, c5L2, c5L1]) ln(14, d, "#333", 1.1);
  // C6
  for (const d of [c6L6, c6L5, c6L4, c6L3, c6L2, c6L1]) ln(15, d, "#333", 1.1);
  // D
  const RED = "#d8262a", BLUE = "#2b3aa8", GRN = "#6cc33c", GRY = "#6e6e6e", FIT = "#9a9a9a";
  const dPanel = (g: number, fits: P[], r: P, b: P, gr: P, gy: P) => {
    for (const f of fits) ln(g, f, FIT, 1, { smooth: 0.35 });
    pts(g, gy, GRY, "#555"); pts(g, gr, GRN, "#4a9a2a"); pts(g, b, BLUE, "#1a2680"); pts(g, r, RED, "#a01818");
  };
  dPanel(16, [dIgGTopRedFit, dIgGTopBlueFit, dIgGTopGreenFit, dIgGTopGrayFit], dIgGTopRed, dIgGTopBlue, dIgGTopGreen, dIgGTopGray);
  dPanel(17, [dFabTopRedFit, dFabTopBlueFit, dFabTopGreenFit, dFabTopGrayFit], dFabTopRed, dFabTopBlue, dFabTopGreen, dFabTopGray);
  dPanel(18, [dIgGMidRedFit, dIgGMidBlueFit, dIgGMidGreenFit, dIgGMidGrayFit], dIgGMidRed, dIgGMidBlue, dIgGMidGreen, dIgGMidGray);
  dPanel(19, [dFabMidRedFit, dFabMidBlueFit, dFabMidGreenFit, dFabMidGrayFit], dFabMidRed, dFabMidBlue, dFabMidGreen, dFabMidGray);
  dPanel(20, [dIgGBotRedFit, dIgGBotBlueFit, dIgGBotGreenFit, dIgGBotGrayFit], dIgGBotRed, dIgGBotBlue, dIgGBotGreen, dIgGBotGray);
  dPanel(21, [dFabBotRedFit, dFabBotBlueFit, dFabBotGreenFit, dFabBotGrayFit], dFabBotRed, dFabBotBlue, dFabBotGreen, dFabBotGray);

  const txt = (text: string, x: number, y: number, size: number, o: any = {}) => ({
    type: "text", x, y, rotation: o.rot ?? 0, silent: true,
    style: { text, x: 0, y: 0, fill: "#222", font: `${size}px ${FONT}`, textAlign: o.align ?? "center", textVerticalAlign: "middle", verticalAlign: "middle" },
  });
  const R = Math.PI / 2;
  const graphic = [
    txt("(A)", 10, 24, 22, { align: "left" }),
    txt("single-cycle kinetics", 353, 40, 30),
    txt("(B)", 688, 24, 22, { align: "left" }),
    txt("one-shot kinetics", 1023, 40, 30),
    txt("Response (RU)", 25, 238, 19, { rot: R }),
    txt("Response (RU)", 708, 226, 19, { rot: R }),
    txt("Time (s)", 335, 422, 18),
    txt("Time (s)", 1036, 422, 18),
    txt("% Bound", 512, 288, 16, { rot: R }),
    txt("CGRP (μM)", 590, 349, 16),
    txt("% Bound", 1174, 288, 16, { rot: R }),
    txt("CGRP (μM)", 1258, 347, 16),
    txt("technology comparisons", 688, 458, 30),
    txt("(C)", 10, 533, 22, { align: "left" }),
    txt("(D)", 688, 533, 22, { align: "left" }),
    txt("rat CGRPα", 218, 548, 22),
    txt("human CGRPα", 530, 548, 22),
    txt("IgG", 880, 548, 22),
    txt("Fab", 1200, 548, 22),
    txt("Shift (nm)", 55, 635, 17, { rot: R }),
    txt("Response (RU)", 55, 778, 17, { rot: R }),
    txt("Response (RU)", 55, 918, 17, { rot: R }),
    txt("Time (s)", 226, 1007, 17),
    txt("Time (s)", 535, 1007, 17),
    txt("Free Antibody Binding Sites (nM)", 733, 775, 11, { rot: R }),
    txt("Premixed", 992, 1008, 12),
    txt("CGRP (nM)", 1072, 1008, 12),
  ];

  return {
    animation: false,
    backgroundColor: "#ffffff",
    grid: panels.map((p) => ({ left: p.rect[0], top: p.rect[1], width: p.rect[2], height: p.rect[3], containLabel: false, outerBoundsMode: "none", show: false })),
    xAxis: panels.map((p, i) => mkAxis(i, p.x)),
    yAxis: panels.map((p, i) => mkAxis(i, p.y)),
    series,
    graphic,
  };
}

export default function App() {
  const ref = useRef<HTMLDivElement>(null);
  useEffect(() => {
    if (!ref.current) return;
    const chart = echarts.init(ref.current, null, { renderer: "svg" });
    chart.setOption(buildOption() as any);
    return () => chart.dispose();
  }, []);
  return <div ref={ref} style={{ position: "absolute", left: 0, top: 0, width: 1320, height: 1016, background: "#fff" }} />;
}
